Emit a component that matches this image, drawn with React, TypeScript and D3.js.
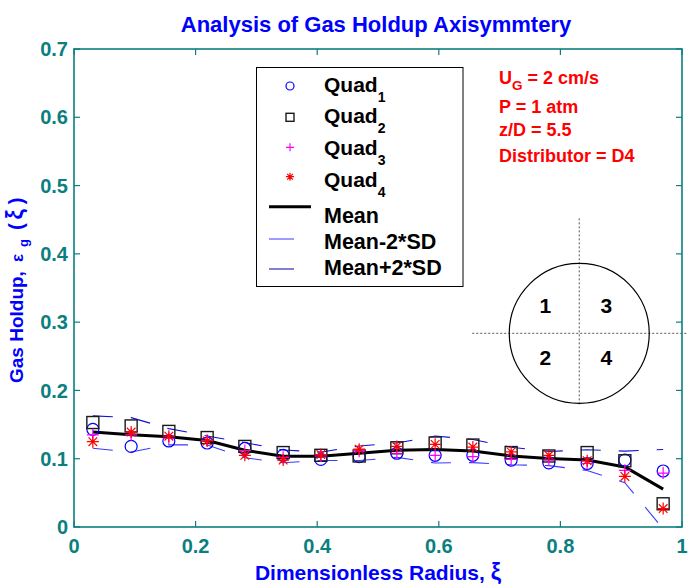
import React from "react";
import * as d3 from "d3";

// Radial positions (dimensionless radius) of the probe measurements
const xi = [0.031, 0.094, 0.156, 0.219, 0.281, 0.344, 0.406, 0.469, 0.531, 0.594, 0.656, 0.719, 0.781, 0.844, 0.906, 0.969];
// Gas holdup measured in each quadrant
const quad1 = [0.143, 0.118, 0.126, 0.123, 0.115, 0.105, 0.099, 0.103, 0.108, 0.105, 0.105, 0.098, 0.094, 0.093, 0.098, 0.082];
const quad2 = [0.153, 0.148, 0.140, 0.131, 0.118, 0.109, 0.105, 0.104, 0.116, 0.123, 0.120, 0.109, 0.104, 0.109, 0.097, 0.034];
const quad3 = [0.135, 0.135, 0.130, 0.127, 0.112, 0.102, 0.104, 0.111, 0.108, 0.105, 0.103, 0.099, 0.098, 0.093, 0.083, 0.079];
const quad4 = [0.125, 0.139, 0.133, 0.126, 0.105, 0.098, 0.106, 0.114, 0.118, 0.121, 0.117, 0.110, 0.105, 0.097, 0.074, 0.027];

const xTicks = [0, 0.2, 0.4, 0.6, 0.8, 1];
const xTickLabels = ["0", "0.2", "0.4", "0.6", "0.8", "1"];
const yTicks = [0, 0.1, 0.2, 0.3, 0.4, 0.5, 0.6, 0.7];
const yTickLabels = ["0", "0.1", "0.2", "0.3", "0.4", "0.5", "0.6", "0.7"];

const conditions = ["= 2 cm/s", "P = 1 atm", "z/D = 5.5", "Distributor = D4"];
const quadrantNames = ["1", "2", "3", "4"];

const W = 688;
const H = 586;
const TEAL = "#0b7f7f";
const BLUE = "#0000ff";
const FONT = "'Liberation Sans', Arial, Helvetica, sans-serif";

const x = d3.scaleLinear().domain([0, 1]).range([74, 682]);
const y = d3.scaleLinear().domain([0, 0.7]).range([527, 49]);

const quads = [quad1, quad2, quad3, quad4];
const mean = xi.map((_, i) => d3.mean(quads.map((q) => q[i])) as number);
const sd = xi.map((_, i) => d3.deviation(quads.map((q) => q[i])) as number);
const lower = mean.map((m, i) => m - 2 * sd[i]);
const upper = mean.map((m, i) => m + 2 * sd[i]);

const line = d3
  .line<number>()
  .x((_, i) => x(xi[i]))
  .y((v) => y(v));

function Marker({ kind, cx, cy, s }: { kind: string; cx: number; cy: number; s: number }) {
  if (kind === "circle")
    return <circle cx={cx} cy={cy} r={s} fill="none" stroke={BLUE} strokeWidth={1.2} />;
  if (kind === "square")
    return <rect x={cx - s} y={cy - s} width={2 * s} height={2 * s} fill="none" stroke="#1a1a1a" strokeWidth={1.4} />;
  if (kind === "plus")
    return (
      <path d={`M${cx - s},${cy}H${cx + s}M${cx},${cy - s}V${cy + s}`} stroke="#ff00ff" strokeWidth={1.2} fill="none" />
    );
  const d = s * 0.72;
  return (
    <path
      d={`M${cx - s},${cy}H${cx + s}M${cx},${cy - s}V${cy + s}M${cx - d},${cy - d}L${cx + d},${cy + d}M${cx - d},${cy + d}L${cx + d},${cy - d}`}
      stroke="#ff0000"
      strokeWidth={1.2}
      fill="none"
    />
  );
}

const markerKinds = ["circle", "square", "plus", "star"];

export default function App() {
  // quadrant diagram placed in data units
  const dcx = x(0.831);
  const dcy = y(0.2836);
  const dr = 70;

  const legendQuad = [
    { marker: 86, text: 91.7 },
    { marker: 117.3, text: 123.3 },
    { marker: 147.3, text: 155 },
    { marker: 176.7, text: 186.7 },
  ];
  const legendLines = [
    { label: "Mean", ly: 206.7, ty: 223.3, stroke: "#000", w: 3, len: 42 },
    { label: "Mean-2*SD", ly: 239, ty: 249.3, stroke: "#3a3aff", w: 1, len: 25 },
    { label: "Mean+2*SD", ly: 269, ty: 275, stroke: "#0000b0", w: 1, len: 25 },
  ];

  return (
    <svg
      width={W}
      height={H}
      viewBox={`0 0 ${W} ${H}`}
      style={{ position: "absolute", left: 0, top: 0, background: "#fff", fontFamily: FONT }}
    >
      <defs>
        <clipPath id="plotClip">
          <rect x={x(0)} y={y(0.7)} width={x(1) - x(0)} height={y(0) - y(0.7)} />
        </clipPath>
      </defs>
      <rect width={W} height={H} fill="#fff" />

      {/* Title */}
      <text x={376} y={32} textAnchor="middle" fill={BLUE} fontWeight="bold" fontSize={22}>
        Analysis of Gas Holdup Axisymmtery
      </text>

      {/* Data lines */}
      <g clipPath="url(#plotClip)">
        <path d={line(lower) as string} fill="none" stroke="#3a3aff" strokeWidth={1.1} strokeDasharray="20,18" />
        <path d={line(upper) as string} fill="none" stroke="#1010d8" strokeWidth={1.1} strokeDasharray="20,18" />
        <path d={line(mean) as string} fill="none" stroke="#000" strokeWidth={3} strokeLinejoin="round" />
        {quads.map((q, k) =>
          q.map((v, i) => <Marker key={`${k}-${i}`} kind={markerKinds[k]} cx={x(xi[i])} cy={y(v)} s={6} />)
        )}
      </g>

      {/* Quadrant diagram */}
      <g>
        <line x1={dcx} x2={dcx} y1={dcy - 115} y2={dcy + 73} stroke="#555" strokeWidth={1} strokeDasharray="2,2" />
        <line x1={dcx - 107} x2={W} y1={dcy} y2={dcy} stroke="#555" strokeWidth={1} strokeDasharray="2,2" />
        <circle cx={dcx} cy={dcy} r={dr} fill="none" stroke="#000" strokeWidth={1.2} />
        {quadrantNames.map((n, k) => (
          <text
            key={n}
            x={dcx + (k < 2 ? -34 : 27)}
            y={dcy + (k % 2 === 0 ? -20 : 32)}
            textAnchor="middle"
            fontWeight="bold"
            fontSize={21}
            fill="#000"
          >
            {n}
          </text>
        ))}
      </g>

      {/* Axes box */}
      <rect x={x(0)} y={y(0.7)} width={x(1) - x(0)} height={y(0) - y(0.7)} fill="none" stroke={TEAL} strokeWidth={1.6} />
      {xTicks.map((t, i) => (
        <g key={`xt${i}`}>
          <line x1={x(t)} x2={x(t)} y1={y(0)} y2={y(0) - 6} stroke={TEAL} strokeWidth={1.2} />
          <line x1={x(t)} x2={x(t)} y1={y(0.7)} y2={y(0.7) + 6} stroke={TEAL} strokeWidth={1.2} />
          <text x={x(t)} y={553} textAnchor="middle" fill={TEAL} fontWeight="bold" fontSize={20}>
            {xTickLabels[i]}
          </text>
        </g>
      ))}
      {yTicks.map((t, i) => (
        <g key={`yt${i}`}>
          <line x1={x(0)} x2={x(0) + 6} y1={y(t)} y2={y(t)} stroke={TEAL} strokeWidth={1.2} />
          <line x1={x(1)} x2={x(1) - 6} y1={y(t)} y2={y(t)} stroke={TEAL} strokeWidth={1.2} />
          <text x={68} y={y(t)} dy="0.36em" textAnchor="end" fill={TEAL} fontWeight="bold" fontSize={20}>
            {yTickLabels[i]}
          </text>
        </g>
      ))}

      {/* Axis labels */}
      <text x={378} y={580} textAnchor="middle" fill={BLUE} fontWeight="bold" fontSize={21}>
        Dimensionless Radius,<tspan dx={6} fontSize={23}>ξ</tspan>
      </text>
      <text transform={`translate(23,383) rotate(-90)`} textAnchor="start" fill={BLUE} fontWeight="bold" fontSize={19}>
        Gas Holdup,
        <tspan dx={9} fontSize={17}>ε</tspan>
        <tspan dx={7} dy={5} fontSize={13}>g</tspan>
        <tspan dx={9} dy={-5} fontSize={20}>(</tspan>
        <tspan dx={4} fontSize={23}>ξ</tspan>
        <tspan dx={5} fontSize={20}>)</tspan>
      </text>

      {/* Legend */}
      <rect x={256.5} y={67.5} width={206.5} height={219} fill="#fff" stroke="#000" strokeWidth={1} />
      {legendQuad.map((r, k) => (
        <g key={`lq${k}`}>
          <Marker kind={markerKinds[k]} cx={290} cy={r.marker} s={4} />
          <text x={324} y={r.text} fontWeight="bold" fontSize={21} fill="#000">
            Quad
            <tspan dy={10} fontSize={14}>
              {quadrantNames[k]}
            </tspan>
          </text>
        </g>
      ))}
      {legendLines.map((l) => (
        <g key={l.label}>
          <line x1={269} x2={269 + l.len} y1={l.ly} y2={l.ly} stroke={l.stroke} strokeWidth={l.w} />
          <text x={324} y={l.ty} fontWeight="bold" fontSize={21.5} fill="#000">
            {l.label}
          </text>
        </g>
      ))}

      {/* Operating conditions */}
      <g fill="#ff0000" fontWeight="bold" fontSize={18}>
        <text x={499} y={84}>
          U<tspan dy={6} fontSize={13.5}>G</tspan>
          <tspan dy={-6}> {conditions[0]}</tspan>
        </text>
        <text x={499} y={113}>{conditions[1]}</text>
        <text x={499} y={136}>{conditions[2]}</text>
        <text x={499} y={162}>{conditions[3]}</text>
      </g>
    </svg>
  );
}
